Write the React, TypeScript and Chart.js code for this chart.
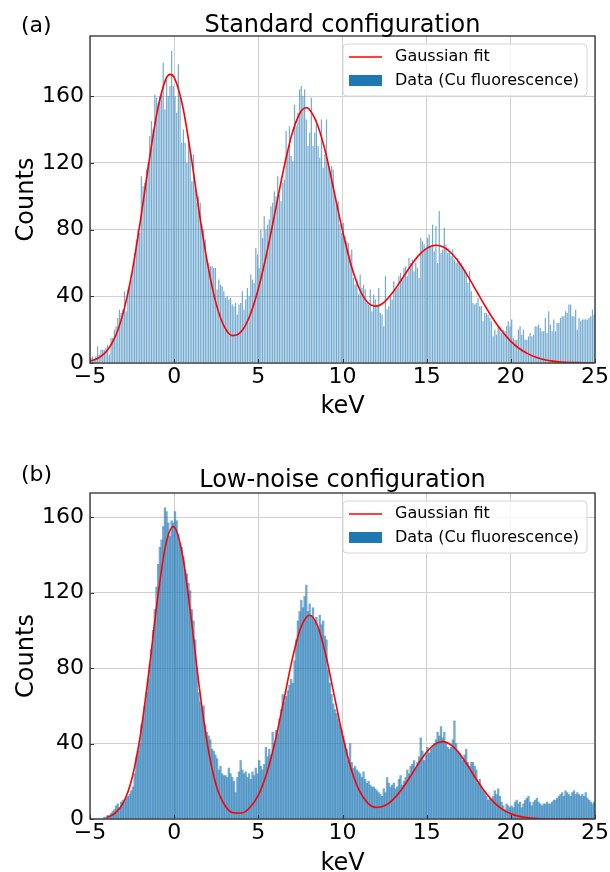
import React, { useEffect, useRef } from 'react';
import { Chart, registerables } from 'chart.js';

Chart.register(...registerables);

// Histogram bins: 0.1 keV wide, first bin starts at -5 keV (300 bins up to 25 keV)
const BIN_START = -5;
const BIN_WIDTH = 0.1;

// (a) Standard configuration - counts per bin
const COUNTS_STANDARD = [
  3, 4, 2, 4, 10, 5, 8, 8, 8, 9,
  11, 5, 15, 15, 20, 22, 27, 32, 30, 32,
  43, 31, 44, 46, 50, 56, 66, 74, 80, 78,
  112, 106, 108, 116, 120, 136, 145, 140, 161, 159,
  156, 160, 161, 180, 152, 170, 160, 166, 187, 166,
  160, 150, 179, 160, 132, 140, 132, 120, 132, 128,
  109, 125, 106, 96, 100, 96, 83, 80, 74, 62,
  60, 58, 58, 57, 57, 44, 50, 47, 46, 43,
  39, 40, 38, 39, 35, 34, 36, 29, 35, 36,
  43, 32, 38, 45, 40, 53, 50, 48, 69, 65,
  57, 80, 75, 88, 80, 83, 86, 94, 96, 103,
  100, 112, 101, 97, 108, 110, 139, 127, 142, 124,
  121, 155, 142, 150, 164, 166, 160, 164, 146, 130,
  138, 159, 130, 138, 146, 130, 123, 146, 117, 125,
  146, 120, 115, 118, 116, 100, 95, 97, 83, 78,
  84, 76, 73, 72, 65, 68, 51, 47, 50, 41,
  53, 45, 47, 44, 36, 35, 44, 31, 41, 38,
  35, 45, 30, 29, 22, 52, 32, 34, 40, 38,
  49, 44, 45, 52, 54, 50, 57, 58, 52, 63,
  60, 62, 55, 60, 57, 51, 75, 73, 71, 68,
  75, 77, 70, 83, 67, 82, 60, 91, 66, 68,
  81, 71, 66, 66, 64, 68, 62, 60, 63, 61,
  60, 58, 55, 53, 48, 55, 43, 36, 35, 36,
  39, 34, 34, 25, 30, 30, 29, 27, 25, 16,
  20, 17, 22, 22, 18, 20, 19, 22, 25, 22,
  26, 15, 14, 14, 20, 22, 17, 20, 14, 14,
  16, 18, 16, 17, 22, 22, 23, 21, 19, 19,
  27, 18, 31, 23, 19, 26, 19, 24, 24, 27,
  28, 28, 31, 30, 35, 35, 28, 28, 32, 20,
  27, 25, 26, 26, 26, 26, 27, 28, 32, 29,
];

// (b) Low-noise configuration - counts per bin
const COUNTS_LOW_NOISE = [
  0, 0, 0, 0, 0, 0, 0, 0, 1, 1,
  2, 1, 3, 4, 5, 7, 8, 6, 9, 10,
  9, 11, 12, 13, 15, 17, 24, 33, 36, 40,
  50, 54, 60, 67, 74, 82, 90, 100, 111, 123,
  135, 144, 148, 155, 165, 163, 157, 150, 158, 157,
  163, 158, 151, 146, 144, 139, 132, 130, 125, 121,
  111, 105, 95, 80, 67, 62, 59, 60, 50, 46,
  44, 42, 37, 36, 34, 32, 26, 28, 24, 23,
  23, 22, 27, 24, 22, 20, 14, 22, 25, 31,
  26, 24, 25, 22, 24, 21, 25, 23, 27, 24,
  31, 28, 26, 29, 38, 33, 37, 34, 46, 40,
  47, 45, 53, 58, 66, 62, 65, 68, 71, 74,
  72, 84, 95, 105, 110, 116, 112, 118, 124, 110,
  114, 108, 112, 105, 107, 101, 108, 103, 105, 97,
  95, 79, 72, 66, 61, 58, 56, 53, 50, 47,
  44, 40, 37, 31, 40, 30, 27, 28, 26, 25,
  24, 22, 25, 21, 19, 20, 18, 17, 17, 16,
  15, 14, 13, 12, 16, 14, 22, 19, 17, 18,
  19, 16, 17, 21, 23, 18, 20, 22, 26, 24,
  28, 29, 31, 27, 30, 33, 43, 36, 31, 34,
  38, 35, 37, 39, 40, 42, 46, 44, 49, 43,
  46, 40, 38, 37, 38, 42, 52, 40, 36, 35,
  33, 31, 34, 37, 30, 28, 30, 30, 28, 26,
  19, 21, 17, 15, 14, 12, 10, 11, 10, 12,
  15, 13, 16, 12, 9, 7, 5, 8, 7, 6,
  7, 6, 9, 10, 8, 9, 6, 8, 10, 11,
  12, 9, 7, 9, 10, 11, 9, 8, 7, 8,
  8, 9, 8, 8, 9, 10, 10, 11, 12, 13,
  14, 12, 15, 14, 13, 12, 14, 15, 13, 14,
  13, 12, 13, 12, 14, 11, 10, 9, 8, 9,
];

// Gaussian fit curves
const FIT_X_STANDARD = [
  -5, -4.5, -4, -3.5, -3, -2.5, -2, -1.5, -1, -0.5, -0.25, 0, 0.5, 1, 1.5, 2, 2.5, 3, 3.5, 4,
  4.5, 5, 5.5, 6, 6.5, 7, 7.5, 7.85, 8, 8.5, 9, 9.5, 10, 10.5, 11, 11.5, 12, 12.5, 13, 13.5,
  14, 14.5, 15, 15.55, 16, 16.5, 17, 17.5, 18, 18.5, 19, 19.5, 20, 20.5, 21, 21.5, 22, 22.5,
  23, 23.5, 24, 24.5, 25,
];
const FIT_Y_STANDARD = [
  1.1, 3.0, 7.2, 15.8, 31.1, 54.5, 85.6, 120.2, 151.1, 170.0, 173.0, 171.2, 154.2, 124.3, 89.6, 58.7, 35.3, 21.4, 16.4, 19.0,
  28.5, 44.5, 65.8, 90.7, 116.0, 137.2, 150.3, 153.0, 152.4, 143.1, 126.0, 102.9, 79.4, 59.0, 44.5, 36.3, 34.1, 36.7, 42.5, 49.9,
  57.5, 64.2, 68.7, 70.6, 69.5, 65.5, 59.2, 51.2, 42.4, 33.7, 25.6, 18.7, 13.0, 8.7, 5.6, 3.4, 2.0, 1.1,
  0.6, 0.3, 0.2, 0.1, 0.0,
];
const FIT_X_LOW_NOISE = [
  -4, -3.5, -3, -2.5, -2, -1.5, -1, -0.5, -0.05, 0.5, 1, 1.5, 2, 2.5, 3, 3.5, 4, 4.5, 5, 5.5,
  6, 6.5, 7, 7.5, 8.05, 8.5, 9, 9.5, 10, 10.5, 11, 11.5, 12, 12.5, 13, 13.5, 14, 14.5, 15, 15.5,
  15.95, 16.5, 17, 17.5, 18, 18.5, 19, 19.5, 20, 20.5, 21, 21.5, 22, 22.5, 23, 23.5, 24, 24.5, 25,
];
const FIT_Y_LOW_NOISE = [
  0.9, 3.1, 8.9, 21.7, 44.8, 78.2, 115.8, 145.4, 155.0, 139.8, 107.0, 69.4, 38.2, 17.8, 7.4, 3.3, 3.2, 6.1, 12.7, 24.3,
  41.2, 62.4, 84.1, 100.9, 108.0, 102.8, 87.3, 65.9, 44.5, 26.9, 15.0, 8.4, 6.1, 7.0, 10.3, 15.5, 22.1, 29.2, 35.5, 39.7,
  41.0, 38.9, 34.1, 27.5, 20.4, 14.0, 8.8, 5.1, 2.8, 1.4, 0.6, 0.3, 0.1, 0, 0, 0, 0, 0, 0,
];

const X_MIN = -5;
const X_MAX = 25;
const X_TICKS = [-5, 0, 5, 10, 15, 20, 25];
const Y_TICKS = [0, 40, 80, 120, 160];
const Y_MAX_STANDARD = 196;
const Y_MAX_LOW_NOISE = 172.8;

const FONT = '"DejaVu Sans", "Liberation Sans", sans-serif';

type PanelProps = {
  label: string;
  title: string;
  counts: number[];
  fitX: number[];
  fitY: number[];
  yMax: number;
  height: number;
  areaTop: number;
  areaBottom: number;
  titleY: number;
  labelY: number;
  xLabelY: number;
  barPercentage: number;
};

function Panel(p: PanelProps) {
  const ref = useRef<HTMLCanvasElement | null>(null);

  useEffect(() => {
    const canvas = ref.current;
    if (!canvas) return;
    const bars = p.counts.map((c, i) => ({ x: BIN_START + BIN_WIDTH * (i + 0.5), y: c }));
    const fit = p.fitX.map((x, i) => ({ x, y: p.fitY[i] }));

    const decor = {
      id: 'decor',
      afterDraw(chart: any) {
        const ctx = chart.ctx as CanvasRenderingContext2D;
        const { left, right, top, bottom } = chart.chartArea;
        const xs = chart.scales.x;
        const ys = chart.scales.y;
        ctx.save();
        // tick marks (inward)
        ctx.strokeStyle = '#333333';
        ctx.lineWidth = 1;
        ctx.beginPath();
        X_TICKS.forEach((v) => {
          const px = Math.round(xs.getPixelForValue(v)) + 0.5;
          ctx.moveTo(px, bottom);
          ctx.lineTo(px, bottom - 4);
        });
        Y_TICKS.forEach((v) => {
          const py = Math.round(ys.getPixelForValue(v)) + 0.5;
          ctx.moveTo(left, py);
          ctx.lineTo(left + 4, py);
        });
        ctx.stroke();
        // frame
        ctx.strokeStyle = '#3c3c3c';
        ctx.lineWidth = 1.4;
        ctx.strokeRect(left, top, right - left, bottom - top);

        // title & labels
        ctx.fillStyle = '#000000';
        ctx.textBaseline = 'alphabetic';
        ctx.font = `24px ${FONT}`;
        ctx.textAlign = 'center';
        ctx.fillText(p.title, (left + right) / 2, p.titleY);
        ctx.fillText('keV', (left + right) / 2, p.xLabelY);
        ctx.font = `22px ${FONT}`;
        ctx.textAlign = 'left';
        ctx.fillText(p.label, 21, p.labelY);
        ctx.save();
        ctx.font = `24px ${FONT}`;
        ctx.textAlign = 'center';
        ctx.translate(33, (top + bottom) / 2);
        ctx.rotate(-Math.PI / 2);
        ctx.fillText('Counts', 0, 0);
        ctx.restore();

        // legend
        const bx = right - 252;
        const by = top + 8;
        const bw = 244;
        const bh = 52;
        const r = 4;
        ctx.beginPath();
        ctx.moveTo(bx + r, by);
        ctx.lineTo(bx + bw - r, by);
        ctx.quadraticCurveTo(bx + bw, by, bx + bw, by + r);
        ctx.lineTo(bx + bw, by + bh - r);
        ctx.quadraticCurveTo(bx + bw, by + bh, bx + bw - r, by + bh);
        ctx.lineTo(bx + r, by + bh);
        ctx.quadraticCurveTo(bx, by + bh, bx, by + bh - r);
        ctx.lineTo(bx, by + r);
        ctx.quadraticCurveTo(bx, by, bx + r, by);
        ctx.closePath();
        ctx.fillStyle = 'rgba(255,255,255,0.8)';
        ctx.fill();
        ctx.strokeStyle = '#d6d6d6';
        ctx.lineWidth = 1;
        ctx.stroke();

        ctx.strokeStyle = '#ff0000';
        ctx.lineWidth = 1.5;
        ctx.beginPath();
        ctx.moveTo(bx + 6, by + 13);
        ctx.lineTo(bx + 39, by + 13);
        ctx.stroke();
        ctx.fillStyle = '#1f77b4';
        ctx.fillRect(bx + 6, by + 31, 33, 11);

        ctx.fillStyle = '#000000';
        ctx.font = `16px ${FONT}`;
        ctx.textAlign = 'left';
        ctx.textBaseline = 'middle';
        ctx.fillText('Gaussian fit', bx + 52, by + 13);
        ctx.fillText('Data (Cu fluorescence)', bx + 52, by + 37);
        ctx.restore();
      },
    };

    const tickFont = { family: FONT, size: 22 };
    const chart = new Chart(canvas, {
      type: 'bar',
      data: {
        datasets: [
          {
            type: 'line',
            data: fit,
            borderColor: '#ff0000',
            borderWidth: 1.6,
            pointRadius: 0,
            cubicInterpolationMode: 'monotone',
            fill: false,
            order: 0,
          } as any,
          {
            type: 'bar',
            data: bars,
            backgroundColor: 'rgba(31,119,180,0.62)',
            borderWidth: 0,
            barPercentage: p.barPercentage,
            categoryPercentage: 1,
            order: 1,
          } as any,
        ],
      },
      options: {
        animation: false,
        responsive: false,
        events: [],
        layout: { padding: { top: p.areaTop, right: 14, left: 0, bottom: 0 } },
        plugins: {
          legend: { display: false },
          tooltip: { enabled: false },
          title: { display: false },
        },
        scales: {
          x: {
            type: 'linear',
            min: X_MIN,
            max: X_MAX,
            offset: false,
            border: { display: false },
            grid: { offset: false, color: '#d0d0d0', lineWidth: 1, drawTicks: false },
            ticks: {
              color: '#000000',
              font: tickFont,
              padding: 1,
              maxRotation: 0,
              autoSkip: false,
              callback: (v: any) => (Number(v) < 0 ? '\u2212' + Math.abs(Number(v)) : String(v)),
            },
            afterBuildTicks: (s: any) => {
              s.ticks = X_TICKS.map((v) => ({ value: v }));
            },
            afterFit: (s: any) => {
              s.height = p.height - p.areaBottom;
            },
          } as any,
          y: {
            type: 'linear',
            min: 0,
            max: p.yMax,
            border: { display: false },
            grid: { color: '#d0d0d0', lineWidth: 1, drawTicks: false },
            ticks: { color: '#000000', font: tickFont, padding: 6 },
            afterBuildTicks: (s: any) => {
              s.ticks = Y_TICKS.map((v) => ({ value: v }));
            },
            afterFit: (s: any) => {
              s.width = 90;
            },
          } as any,
        },
      },
      plugins: [decor],
    });
    return () => chart.destroy();
  }, []);

  return (
    <canvas
      ref={ref}
      width={610}
      height={p.height}
      style={{ display: 'block', width: 610, height: p.height }}
    />
  );
}

export default function App() {
  return (
    <div style={{ position: 'fixed', left: 0, top: 0, width: 610, height: 872, background: '#ffffff' }}>
      <Panel
        label="(a)"
        title="Standard configuration"
        counts={COUNTS_STANDARD}
        fitX={FIT_X_STANDARD}
        fitY={FIT_Y_STANDARD}
        yMax={Y_MAX_STANDARD}
        height={436}
        areaTop={36}
        areaBottom={363}
        titleY={32}
        labelY={32}
        xLabelY={413}
        barPercentage={0.72}
      />
      <Panel
        label="(b)"
        title="Low-noise configuration"
        counts={COUNTS_LOW_NOISE}
        fitX={FIT_X_LOW_NOISE}
        fitY={FIT_Y_LOW_NOISE}
        yMax={Y_MAX_LOW_NOISE}
        height={436}
        areaTop={57}
        areaBottom={383}
        titleY={51}
        labelY={45}
        xLabelY={434}
        barPercentage={1}
      />
    </div>
  );
}
